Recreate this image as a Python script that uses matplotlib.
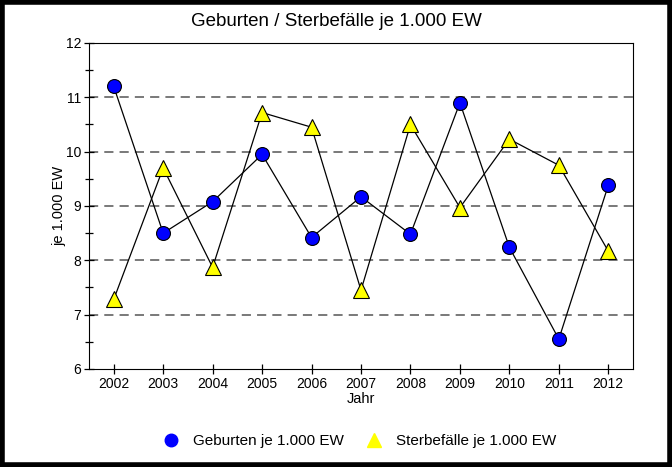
import numpy as np
import matplotlib
matplotlib.use("Agg")
import matplotlib.pyplot as plt
from matplotlib.patches import Rectangle
from matplotlib.ticker import MultipleLocator

plt.rcParams['font.family'] = ['Liberation Sans', 'DejaVu Sans']

# data
years = [2002, 2003, 2004, 2005, 2006, 2007, 2008, 2009, 2010, 2011, 2012]
geburten = [11.2, 8.5, 9.08, 9.95, 8.42, 9.17, 8.48, 10.9, 8.24, 6.55, 9.38]
sterbefaelle = [7.28, 9.7, 7.87, 10.72, 10.45, 7.45, 10.5, 8.97, 10.23, 9.75, 8.17]

fig = plt.figure(figsize=(6.72, 4.67), dpi=100)
ax = fig.add_axes([89/672, 1 - 369/467, (633-89)/672, (369-43)/467])

ax.plot(years, geburten, color='black', lw=0.9, marker='o', ms=10,
        mfc='#0000ff', mec='black', mew=0.8, label='Geburten je 1.000 EW', zorder=3)
ax.plot(years, sterbefaelle, color='black', lw=0.9, marker='^', ms=11,
        mfc='#ffff00', mec='black', mew=0.8, label='Sterbefälle je 1.000 EW', zorder=3)

ax.set_xlim(2001.5, 2012.5)
ax.set_ylim(6, 12)
ax.set_xticks(years)
ax.set_xticklabels([str(y) for y in years])
ax.yaxis.set_major_locator(MultipleLocator(1))
ax.yaxis.set_minor_locator(MultipleLocator(0.5))
ax.tick_params(axis='both', direction='inout', length=7, width=0.9, labelsize=10, pad=2)
ax.tick_params(axis='y', which='minor', direction='inout', length=6, width=0.9)
for yv in [7, 8, 9, 10, 11]:
    ax.axhline(yv, color='#555555', ls=(0, (6, 4)), lw=1.1, zorder=1)

fig.text(0.5, 1 - 22/467, 'Geburten / Sterbefälle je 1.000 EW', fontsize=13.5,
         ha='center', va='center')
ax.set_xlabel('Jahr', fontsize=10.5, labelpad=1)
ax.set_ylabel('je 1.000 EW', fontsize=10.5, labelpad=0)

handles = [
    plt.Line2D([], [], ls='none', marker='o', ms=9, mfc='#0000ff', mec='#0000ff'),
    plt.Line2D([], [], ls='none', marker='^', ms=10, mfc='#ffff00', mec='#ffff00'),
]
fig.legend(handles, ['Geburten je 1.000 EW', 'Sterbefälle je 1.000 EW'],
           loc='center', bbox_to_anchor=(356/672, 1 - 441/467), ncol=2, frameon=False,
           fontsize=11, handletextpad=0.4, columnspacing=1.0)

fig.patches.append(Rectangle((0.003, 0.004), 0.994, 0.992, transform=fig.transFigure,
                             fill=False, edgecolor='black', lw=4))

fig.savefig('out.png', dpi=100)
